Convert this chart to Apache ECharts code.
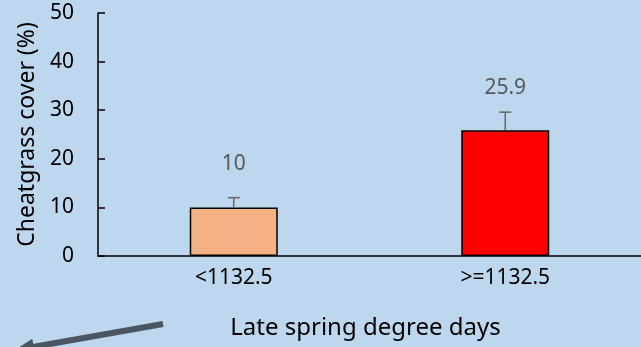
<!DOCTYPE html>
<html>
<head>
<meta charset="utf-8">
<script src="https://cdn.jsdelivr.net/npm/echarts@6/dist/echarts.min.js"></script>
<style>
html,body{margin:0;padding:0;background:#BDD7EE;}
#chart{width:641px;height:347px;}
</style>
</head>
<body>
<div id="chart"></div>
<script>
var categories = ['<1132.5', '>=1132.5'];
var coverValues = [10, 25.9];
var errorUpper = [12.0, 29.6];
var yTicks = [0, 10, 20, 30, 40, 50];
var barColors = ['#F4B183', '#FF0000'];

var FONT = 'Noto Sans';
var labelGap = [34, 24];

var chart = echarts.init(document.getElementById('chart'));
var option = {
  backgroundColor: '#BDD7EE',
  animation: false,
  grid: { left: 98, top: 13, bottom: 91, width: 554, containLabel: false },
  xAxis: {
    type: 'category',
    data: categories,
    axisLine: { lineStyle: { color: '#000', width: 1.5 } },
    axisTick: { show: false },
    axisLabel: { color: '#000', fontFamily: FONT, fontSize: 21, margin: 12 },
    name: 'Late spring degree days',
    nameLocation: 'middle',
    nameGap: 60,
    nameTextStyle: { color: '#000', fontFamily: FONT, fontSize: 24, padding: [0, 8, 0, 0] }
  },
  yAxis: {
    type: 'value',
    min: yTicks[0],
    max: yTicks[yTicks.length - 1],
    interval: 10,
    splitLine: { show: false },
    axisLine: { show: true, lineStyle: { color: '#000', width: 1.5 } },
    axisTick: { show: true, inside: true, length: 7, lineStyle: { color: '#000', width: 1.5 } },
    axisLabel: { color: '#000', fontFamily: FONT, fontSize: 21, margin: 24 },
    name: 'Cheatgrass cover (%)',
    nameLocation: 'middle',
    nameGap: 55,
    nameTextStyle: { color: '#000', fontFamily: FONT, fontSize: 23 }
  },
  series: [
    {
      type: 'bar',
      barWidth: 88,
      data: coverValues.map(function (v, i) {
        return { value: v, itemStyle: { color: barColors[i] } };
      }),
      itemStyle: { borderColor: '#000', borderWidth: 1.5 },
      label: { show: false },
      z: 2
    },
    {
      type: 'custom',
      data: errorUpper.map(function (u, i) { return [i, coverValues[i], u]; }),
      renderItem: function (params, api) {
        var i = api.value(0);
        var base = api.coord([i, api.value(1)]);
        var top = api.coord([i, api.value(2)]);
        var x = base[0];
        var cap = 6;
        var style = { stroke: '#6b6b6b', lineWidth: 1.6 };
        return {
          type: 'group',
          children: [
            { type: 'line', shape: { x1: x, y1: base[1], x2: x, y2: top[1] }, style: style },
            { type: 'line', shape: { x1: x - cap, y1: top[1], x2: x + cap, y2: top[1] }, style: style },
            { type: 'text', style: {
                text: String(coverValues[i]), x: x, y: top[1] - labelGap[i],
                align: 'center', verticalAlign: 'middle',
                fill: '#595959', font: '21px "Noto Sans"'
            } }
          ]
        };
      },
      z: 3
    }
  ],
  graphic: [
    { type: 'line', shape: { x1: 163, y1: 324, x2: 30, y2: 347.5 },
      style: { stroke: '#4B5660', lineWidth: 6 } },
    { type: 'polygon', shape: { points: [[14, 350.5], [32.3, 338.7], [35.1, 354.5]] },
      style: { fill: '#4B5660' } }
  ]
};
chart.setOption(option);
</script>
</body>
</html>
